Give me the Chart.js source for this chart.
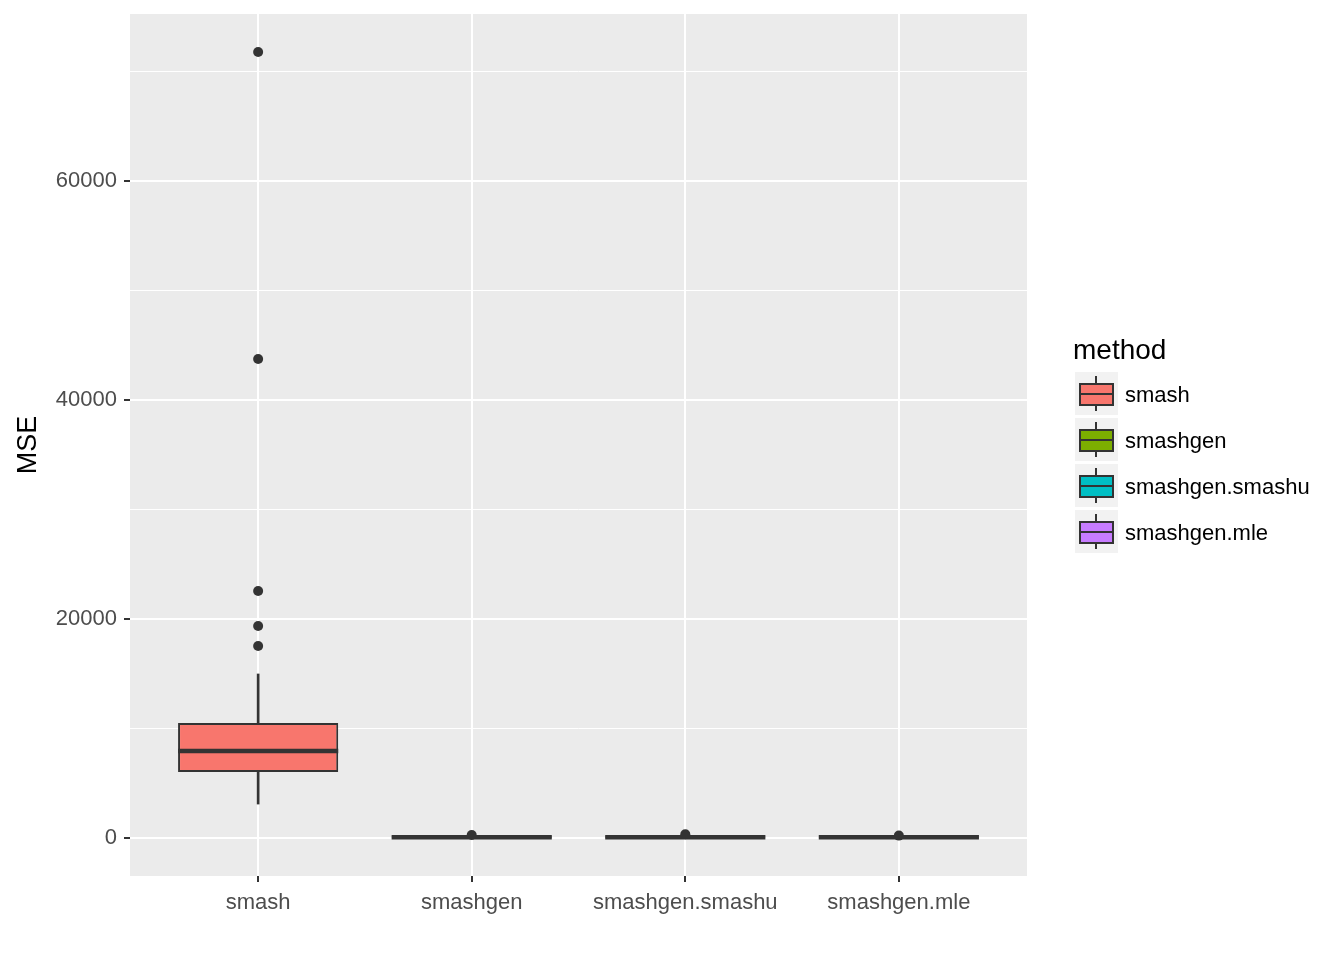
<!DOCTYPE html>
<html>
<head>
<meta charset="utf-8">
<script src="https://cdn.jsdelivr.net/npm/chart.js@4.4.1/dist/chart.umd.min.js"></script>
<style>
  body { margin: 0; background: #fff; font-family: "Liberation Sans", Arial, sans-serif; }
  #wrap { position: relative; width: 1344px; height: 960px; }
  #legend { position: absolute; left: 1073px; top: 334px; }
  #legend .ttl { font-size: 28px; color: #000; height: 38px; line-height: 32px; }
  #legend .item { position: relative; height: 46px; }
  #legend .key { position: absolute; left: 2px; top: 0; width: 43px; height: 43px; background: #f2f2f2; }
  #legend .wh { position: absolute; left: 20px; top: 4px; width: 2px; height: 35px; background: #333; }
  #legend .bx { position: absolute; left: 4px; top: 11px; width: 31px; height: 19px; border: 2px solid #333; }
  #legend .md { position: absolute; left: 0; top: 8px; width: 31px; height: 2px; background: #333; }
  #legend .lab { position: absolute; left: 52px; top: 10px; font-size: 22px; color: #000; white-space: nowrap; }
</style>
</head>
<body>
<div id="wrap">
  <canvas id="chart1" width="1344" height="960"></canvas>
  <div id="legend"></div>
</div>
<script>
// categories + colours (ggplot default hues)
var methods = ['smash', 'smashgen', 'smashgen.smashu', 'smashgen.mle'];
var fills = ['#F8766D', '#7CAE00', '#00BFC4', '#C77CFF'];

// box statistics
var lowerWhisker = [3100, 0, 0, 0];
var q1 = [6030, 30, 30, 30];
var medians = [7950, 80, 80, 70];
var q3 = [10500, 150, 160, 140];
var upperWhisker = [14980, 260, 300, 200];

// outliers (index into methods)
var outlierMethod = [0, 0, 0, 0, 0, 1, 2, 3];
var outlierValue = [71780, 43740, 22560, 19360, 17530, 280, 350, 220];

var yTicks = [0, 20000, 40000, 60000];

var boxData = [], whiskerData = [], pointData = [];
for (var i = 0; i < methods.length; i++) {
    boxData.push({x: i, y: [q1[i], q3[i]]});
    whiskerData.push({x: i, y: [lowerWhisker[i], upperWhisker[i]]});
}
for (var j = 0; j < outlierValue.length; j++) {
    pointData.push({x: outlierMethod[j], y: outlierValue[j]});
}

// grey panel behind the plot
var panelBg = {
    id: 'panelBg',
    beforeDraw: function (chart) {
        var a = chart.chartArea, c = chart.ctx;
        c.save();
        c.fillStyle = '#EBEBEB';
        c.fillRect(a.left, a.top, a.right - a.left, a.bottom - a.top);
        c.restore();
    }
};

// median bars on top of the boxes
var medianLines = {
    id: 'medianLines',
    afterDatasetsDraw: function (chart) {
        var meta = chart.getDatasetMeta(1);
        var ys = chart.scales.y, c = chart.ctx;
        c.save();
        c.strokeStyle = '#333333';
        c.lineWidth = 4.5;
        meta.data.forEach(function (bar, k) {
            var w = bar.width;
            var py = ys.getPixelForValue(medians[k]);
            c.beginPath();
            c.moveTo(bar.x - w / 2, py);
            c.lineTo(bar.x + w / 2, py);
            c.stroke();
        });
        c.restore();
    }
};

new Chart(document.getElementById('chart1'), {
    type: 'bar',
    data: {
        datasets: [{
            data: whiskerData,
            backgroundColor: '#333333',
            barThickness: 2,
            grouped: false,
            order: 3
        }, {
            data: boxData,
            backgroundColor: fills,
            borderColor: '#333333',
            borderWidth: 2,
            borderSkipped: false,
            barPercentage: 0.75,
            categoryPercentage: 1,
            grouped: false,
            order: 2
        }, {
            type: 'line',
            data: pointData,
            showLine: false,
            pointRadius: 5,
            pointBackgroundColor: '#333333',
            pointBorderWidth: 0,
            order: 1
        }]
    },
    options: {
        responsive: false,
        animation: false,
        devicePixelRatio: 1,
        layout: {padding: {top: 14, right: 317, left: 0, bottom: 0}},
        plugins: {legend: {display: false}, tooltip: {enabled: false}},
        scales: {
            x: {
                type: 'linear',
                min: -0.6,
                max: 3.6,
                offset: false,
                afterBuildTicks: function (s) {
                    s.ticks = methods.map(function (m, k) { return {value: k}; });
                },
                grid: {
                    offset: false,
                    color: '#ffffff',
                    lineWidth: 2,
                    tickColor: '#333333',
                    tickWidth: 2,
                    tickLength: 6
                },
                border: {display: false},
                ticks: {
                    color: '#4D4D4D',
                    padding: 8,
                    maxRotation: 0,
                    font: {family: 'Liberation Sans', size: 22},
                    callback: function (v) { return methods[v]; }
                },
                afterFit: function (s) { s.height = 84; s.paddingLeft = 0; s.paddingRight = 0; }
            },
            y: {
                min: -3470,
                max: 75250,
                afterBuildTicks: function (s) {
                    var t = [];
                    for (var v = 0; v <= 70000; v += 10000) t.push({value: v});
                    s.ticks = t;
                },
                grid: {
                    color: '#ffffff',
                    lineWidth: function (ctx) { return yTicks.indexOf(ctx.tick.value) >= 0 ? 2 : 1; },
                    tickColor: function (ctx) { return yTicks.indexOf(ctx.tick.value) >= 0 ? '#333333' : 'rgba(0,0,0,0)'; },
                    tickWidth: 2,
                    tickLength: 6
                },
                border: {display: false},
                ticks: {
                    color: '#4D4D4D',
                    padding: 7,
                    font: {family: 'Liberation Sans', size: 22},
                    callback: function (v) { return yTicks.indexOf(v) >= 0 ? String(v) : ''; }
                },
                title: {
                    display: true,
                    text: 'MSE',
                    color: '#000000',
                    padding: {top: 12, bottom: 0},
                    font: {family: 'Liberation Sans', size: 27}
                },
                afterFit: function (s) { s.width = 130; s.paddingTop = 0; s.paddingBottom = 0; }
            }
        }
    },
    plugins: [panelBg, medianLines]
});

// legend on the right, ggplot style
var html = '<div class="ttl">method</div>';
for (var m = 0; m < methods.length; m++) {
    html += '<div class="item"><div class="key"><div class="wh"></div>' +
        '<div class="bx" style="background:' + fills[m] + '"><div class="md"></div></div></div>' +
        '<div class="lab">' + methods[m] + '</div></div>';
}
document.getElementById('legend').innerHTML = html;
</script>
</body>
</html>
